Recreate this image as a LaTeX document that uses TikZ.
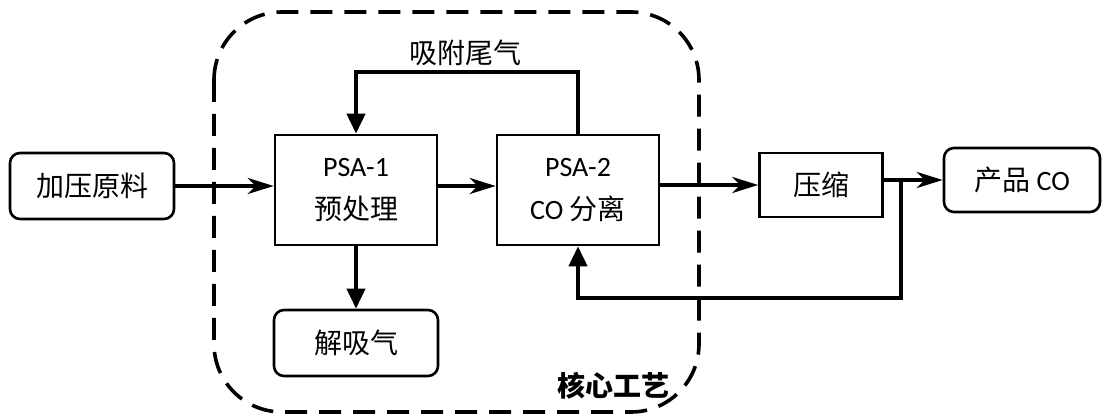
\documentclass[tikz,border=0pt]{standalone}
\usepackage{fontspec}
\setmainfont{Carlito}
\newfontfamily\cjk{Noto Sans CJK SC}
\usepackage{tikz}
\usetikzlibrary{arrows.meta,calc,positioning}

\begin{document}
\begin{tikzpicture}[x=0.5pt,y=-0.5pt,font=\fontsize{14}{21.5}\selectfont,
  unit/.style={draw,line width=1.3pt,minimum width=81pt,minimum height=55pt,align=center,inner sep=0pt},
  term/.style={draw,line width=1.3pt,rounded corners=5pt,minimum width=82pt,minimum height=33pt,inner sep=0pt},
  flow/.style={line width=2pt,-{Stealth[length=13pt,width=8pt,inset=4pt]}},
  flowup/.style={line width=2pt,-{Triangle[length=10pt,width=9pt]}}]
\useasboundingbox (0,0) rectangle (1104,416);
% core process boundary
\draw[line width=1.8pt,dash pattern=on 11pt off 6pt,rounded corners=34pt] (214,12) rectangle (699,412);
\node[font=\fontsize{14}{16}\cjk\bfseries] (core) at (613,386) {核心工艺};
% blocks
\node[term] (feed) at (92,186) {\cjk 加压原料};
\node[unit] (psa1) at (356,190) {PSA-1\\{\cjk 预处理}};
\node[unit] (psa2) at (578,190) {PSA-2\\CO {\cjk 分离}};
\node[term] (desorb) at (356,343) {\cjk 解吸气};
\node[unit,minimum width=61.5pt,minimum height=32pt] (comp) at (821,185) {\cjk 压缩};
\node[term,minimum width=78pt,minimum height=32pt] (product) at (1022,180) {{\cjk 产品} CO};
\node (tail) at (465,53) {\cjk 吸附尾气};
% streams
\draw[flow] (feed.east) -- (psa1.west |- feed.east);
\draw[flow] (psa1.east |- feed.east) -- (psa2.west |- feed.east);
\draw[flow] (psa2.east |- comp.west) -- (comp.west);
\draw[flow] (comp.east |- product.west) -- (product.west);
\draw[flowup] (psa1.south) -- (desorb.north);
\draw[flowup] (psa2.north) -- ++(0,-62) -| (psa1.north);
\coordinate (split) at (901,181);
\coordinate (back) at (901,298);
\draw[flowup] (split) -- (back) -| (psa2.south);
\end{tikzpicture}
\end{document}
